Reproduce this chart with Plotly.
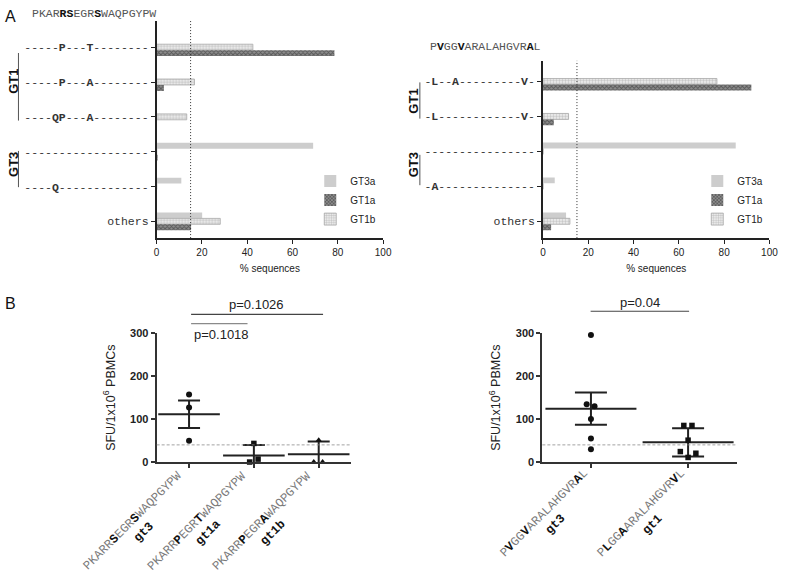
import plotly.graph_objects as go

W, H = 789, 578

# ---------------- Panel A data ----------------
left_header = "PKAR<b>RS</b>EGR<b>S</b>WAQPGYPW"
left_rows = ["-----<b>P</b>---<b>T</b>--------",
             "-----<b>P</b>---<b>A</b>--------",
             "----<b>QP</b>---<b>A</b>--------",
             "------------------",
             "----<b>Q</b>-------------",
             "others"]
left_gt3a = [0, 0, 0, 69.1, 10.9, 20.1]
left_gt1b = [42.5, 16.7, 13.3, 0, 0, 28.1]
left_gt1a = [78.5, 3.2, 0, 0.4, 0, 15.2]

right_header = "P<b>V</b>GG<b>V</b>ARALAHGVR<b>A</b>L"
right_rows = ["-<b>L</b>--<b>A</b>---------<b>V</b>-",
              "-<b>L</b>------------<b>V</b>-",
              "----------------",
              "-<b>A</b>--------------",
              "others"]
right_gt3a = [0, 0, 85.1, 5.2, 10.2]
right_gt1b = [76.8, 11.3, 0, 0, 11.9]
right_gt1a = [92.0, 4.8, 0, 0, 3.6]

pct_ticks = [0, 20, 40, 60, 80, 100]
threshold_pct = 15

# ---------------- Panel B data ----------------
bl_cats = ["gt3", "gt1a", "gt1b"]
bl_seqs = ["PKARR<b>S</b>EGR<b>S</b>WAQPGYPW",
           "PKARR<b>P</b>EGR<b>T</b>WAQPGYPW",
           "PKARR<b>P</b>EGR<b>A</b>WAQPGYPW"]
bl_gt3 = [157.5, 127, 49.5]
bl_gt1a = [43.4, 6.8, 0]
bl_gt1b = [51, 0, 0]
bl_means = [111.5, 15.3, 18.0]
bl_errs = [32, 24.4, 30]

br_cats = ["gt3", "gt1"]
br_seqs = ["P<b>V</b>GG<b>V</b>ARALAHGVR<b>A</b>L",
           "P<b>L</b>GG<b>A</b>ARALAHGVR<b>V</b>L"]
br_gt3 = [296, 134.7, 130, 100.5, 54.8, 29.7]
br_gt1 = [85.3, 85.3, 51, 24.4, 20.5, 10.7]
br_means = [124.5, 46]
br_errs = [37.5, 33]

sfu_ticks = [0, 100, 200, 300]
sfu_threshold = 40
p_left = ["p=0.1026", "p=0.1018"]
p_right = ["p=0.04"]

# ---------------- styles ----------------
SANS = "Liberation Sans, Arial, sans-serif"
MONO = "Liberation Mono"
jit_bl = [[0, 0, 0], [0, 0.065, -0.065], [0, -0.076, 0.06]]
jit_br = [[0, -0.044, 0.037, 0, 0, 0], [-0.044, 0.04, 0, -0.08, 0.08, 0]]

def px(x): return x / W
def py(y): return 1 - y / H

style_gt3a = dict(color="#cdcdcd", line=dict(width=0))
style_gt1a = dict(color="#7a7a7a", line=dict(width=0),
                  pattern=dict(shape="x", fgcolor="#222222", bgcolor="#8c8c8c", size=3, solidity=0.5))
style_gt1b = dict(color="#f0f0f0", line=dict(width=0.8, color="#a8a8a8"),
                  pattern=dict(shape=".", fgcolor="#9a9a9a", bgcolor="#f2f2f2", size=3, solidity=0.5))

fig = go.Figure()

def add_bars(xa, ya, leg, gt3a, gt1b, gt1a):
    idx = list(range(len(gt3a)))
    fig.add_trace(go.Bar(orientation="h", y=idx, x=gt3a, name="GT3a", marker=style_gt3a,
                         xaxis=xa, yaxis=ya, legend=leg, legendrank=1))
    fig.add_trace(go.Bar(orientation="h", y=idx, x=gt1b, name="GT1b", marker=style_gt1b,
                         xaxis=xa, yaxis=ya, legend=leg, legendrank=3))
    fig.add_trace(go.Bar(orientation="h", y=idx, x=gt1a, name="GT1a", marker=style_gt1a,
                         xaxis=xa, yaxis=ya, legend=leg, legendrank=2))

add_bars("x", "y", "legend", left_gt3a, left_gt1b, left_gt1a)
add_bars("x2", "y2", "legend2", right_gt3a, right_gt1b, right_gt1a)

# Panel B scatter
def add_points(xa, ya, groups, jits, symbols, sizes):
    for i, (vals, jit, sym, sz) in enumerate(zip(groups, jits, symbols, sizes)):
        fig.add_trace(go.Scatter(x=[i + j for j in jit], y=vals, mode="markers",
                                 marker=dict(symbol=sym, size=sz, color="#111111"),
                                 cliponaxis=False, showlegend=False, xaxis=xa, yaxis=ya))

def add_mean(xa, ya, means, errs, meanw, capw):
    fig.add_trace(go.Scatter(x=list(range(len(means))), y=means, mode="markers",
                             marker=dict(symbol="line-ew", size=meanw,
                                         line=dict(width=2, color="#222222")),
                             error_y=dict(type="data", array=errs, width=capw, thickness=2,
                                          color="#222222"),
                             showlegend=False, xaxis=xa, yaxis=ya))

add_mean("x3", "y3", bl_means, bl_errs, 44, 11)
add_points("x3", "y3", [bl_gt3, bl_gt1a, bl_gt1b], jit_bl,
           ["circle", "square", "triangle-up"], [6, 5.5, 6])
add_mean("x4", "y4", br_means, br_errs, 65, 16)
add_points("x4", "y4", [br_gt3, br_gt1], jit_br, ["circle", "square"], [6, 5.5])

# ---------------- axes ----------------
axA = dict(showline=True, linecolor="#222222", linewidth=1.5, ticks="outside", ticklen=4,
           tickwidth=1.2, tickcolor="#222222", showgrid=False, zeroline=False)
xA = dict(axA, range=[0, 100], tickvals=pct_ticks, tickfont=dict(family=SANS, size=10, color="#222"),
          title=dict(text="% sequences", font=dict(family=SANS, size=10, color="#222"), standoff=8))
fig.update_layout(
    xaxis=dict(xA, domain=[px(156), px(386)], anchor="y"),
    yaxis=dict(axA, domain=[py(237), py(15)], anchor="x", range=[5.48, -0.76],
               tickvals=list(range(len(left_rows))), ticktext=left_rows,
               tickfont=dict(family=MONO, size=11.5, color="#333")),
    xaxis2=dict(xA, domain=[px(548.3), px(778.3)], anchor="y2"),
    yaxis2=dict(axA, domain=[py(237), py(56)], anchor="x2", range=[4.48, -0.59],
                tickvals=list(range(len(right_rows))), ticktext=right_rows,
                tickfont=dict(family=MONO, size=11.5, color="#333")),
)

axB = dict(showline=True, linecolor="#333333", linewidth=2, ticks="outside", ticklen=4,
           tickwidth=1.5, tickcolor="#333333", showgrid=False, zeroline=False)
yB = dict(axB, range=[0, 300], tickvals=sfu_ticks,
          tickfont=dict(family=SANS, size=11, color="#222", weight="bold"),
          title=dict(text="SFU/1x10<sup>6</sup> PBMCs", font=dict(family=SANS, size=12.5, color="#222"),
                     standoff=12))
fig.update_layout(
    xaxis3=dict(axB, domain=[px(156), px(353.5)], anchor="y3", range=[-0.5, 2.5],
                tickvals=[0, 1, 2], showticklabels=False),
    yaxis3=dict(yB, domain=[py(465.7), py(334.3)], anchor="x3"),
    xaxis4=dict(axB, domain=[px(547.7), px(745)], anchor="y4", range=[-0.5, 1.5],
                tickvals=[0, 1], showticklabels=False),
    yaxis4=dict(yB, domain=[py(465.7), py(334.3)], anchor="x4"),
)

# ---------------- shapes ----------------
shapes = []
for xr, yr in (("x", "y domain"), ("x2", "y2 domain")):
    shapes.append(dict(type="line", xref=xr, yref=yr, x0=threshold_pct, x1=threshold_pct, y0=0, y1=1,
                       line=dict(color="#333333", width=1, dash="1px,2px")))
for xr, yr in (("x3 domain", "y3"), ("x4 domain", "y4")):
    shapes.append(dict(type="line", xref=xr, yref=yr, x0=0, x1=1, y0=sfu_threshold, y1=sfu_threshold,
                       line=dict(color="#8a8a8a", width=0.8, dash="3px,2px")))
# group brackets
for x, y0, y1 in ((15.7, 48, 117), (15.7, 148, 185), (423.3, 78, 115), (423.3, 152, 183)):
    shapes.append(dict(type="line", xref="paper", yref="paper", x0=px(x), x1=px(x), y0=py(y0), y1=py(y1),
                       line=dict(color="#555555", width=1)))
# significance lines
for x0, x1, y, c in ((191, 325, 315, "#444444"), (191, 248.3, 324.3, "#8a8a8a"), (596.7, 696.7, 311.7, "#444444")):
    shapes.append(dict(type="line", xref="paper", yref="paper", x0=px(x0), x1=px(x1), y0=py(y), y1=py(y),
                       line=dict(color=c, width=1.2)))

# ---------------- annotations ----------------
ann = []
def A(text, x, y, size, family=SANS, color="#111", xanchor="center", angle=0, **kw):
    ann.append(dict(text=text, x=px(x), y=py(y), xref="paper", yref="paper", showarrow=False,
                    xanchor=xanchor, yanchor="middle", textangle=angle,
                    font=dict(family=family, size=size, color=color), **kw))

def darkbold(s):
    return s.replace("<b>", "<b><span style='color:#111'>").replace("</b>", "</span></b>")

A("A", 8, 11, 16)
A("B", 8, 304, 16)
A(darkbold(left_header), 27, 8, 11.5, family=MONO, color="#555", xanchor="left")
A(darkbold(right_header), 432, 41, 11.5, family=MONO, color="#555", xanchor="left")
A("<b>GT1</b>", 10.5, 77, 13, angle=-90)
A("<b>GT3</b>", 10.5, 162, 13, angle=-90)
A("<b>GT1</b>", 417, 97, 13, angle=-90)
A("<b>GT3</b>", 417, 162, 13, angle=-90)
A(p_left[0], 257.5, 305, 13, color="#222")
A(p_left[1], 192, 335, 13, color="#222", xanchor="left")
A(p_right[0], 646.7, 303, 13, color="#222")

def seq_label(seq, cat):
    return darkbold(seq) + "<br><span style='color:#111'><b>" + cat + "</b></span>"

for i, (seq, cat) in enumerate(zip(bl_seqs, bl_cats)):
    ann.append(dict(text=seq_label(seq, cat), x=i, xref="x3", y=py(532), yref="paper", xshift=-51,
                    showarrow=False, textangle=-45, xanchor="center", yanchor="middle", align="center",
                    font=dict(family=MONO, size=12.3, color="#7a7a7a")))
for i, (seq, cat) in enumerate(zip(br_seqs, br_cats)):
    ann.append(dict(text=seq_label(seq, cat), x=i, xref="x4", y=py(524), yref="paper", xshift=-41,
                    showarrow=False, textangle=-45, xanchor="center", yanchor="middle", align="center",
                    font=dict(family=MONO, size=12.3, color="#7a7a7a")))

legend_style = dict(font=dict(family=SANS, size=10, color="#222"), bgcolor="rgba(0,0,0,0)",
                    borderwidth=0, itemwidth=30, yanchor="top", xanchor="left", traceorder="normal")

fig.update_layout(
    width=W, height=H, margin=dict(l=0, r=0, t=0, b=0),
    paper_bgcolor="white", plot_bgcolor="white",
    barmode="group", bargap=0.49, bargroupgap=0,
    shapes=shapes, annotations=ann,
    legend=dict(legend_style, x=px(312), y=py(164)),
    legend2=dict(legend_style, x=px(705), y=py(164)),
    font=dict(family=SANS),
)

fig.write_html("out.html", config={"displayModeBar": False},
               post_script="document.body.style.margin='0';")
